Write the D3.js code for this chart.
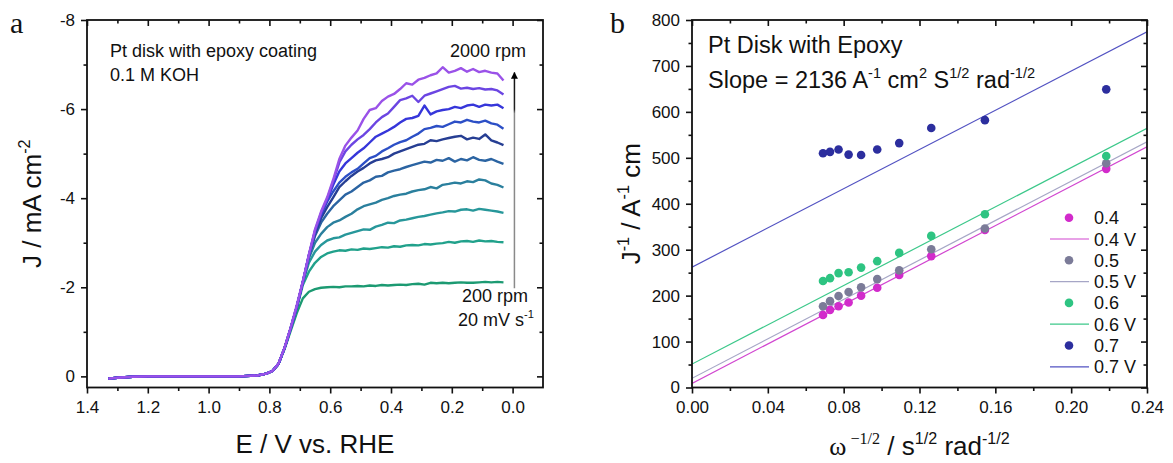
<!DOCTYPE html>
<html>
<head>
<meta charset="utf-8">
<script src="https://cdn.jsdelivr.net/npm/d3@7"></script>
<style>
  body { margin: 0; background: #fff; }
  svg text { font-family: "Liberation Sans", Arial, sans-serif; fill: #111; }
</style>
</head>
<body>
<script>
'use strict';

// ---- panel a : LSV curves, J (mA cm-2) vs E (V vs RHE) ----
let potential = [1.33, 1.30, 1.25, 1.20, 1.10, 1.00, 0.90, 0.84, 0.81, 0.79,
    0.77, 0.75, 0.73, 0.71, 0.69, 0.67, 0.65, 0.63, 0.61, 0.59, 0.57, 0.55,
    0.53, 0.51, 0.49, 0.47, 0.45, 0.43, 0.41, 0.39, 0.37, 0.35, 0.33, 0.31, 0.29,
    0.27, 0.25, 0.23, 0.21, 0.19, 0.17, 0.15, 0.13, 0.11, 0.09, 0.07, 0.05, 0.03];

// shared foot of the wave (1.33 .. 0.79 V), identical for every rotation rate
let onsetJ = [0.05, 0.03, 0.01, 0.0, 0.0, 0.0, 0.0, -0.02, -0.06, -0.12];

let rotationRates = [200, 400, 600, 800, 1000, 1200, 1400, 1600, 1800, 2000];

let curveColors = ["#1c9a72", "#21a18b", "#27979a", "#2a7f9d", "#2b64a2",
    "#263e93", "#2c4fc6", "#3636da", "#6b45e2", "#9a52e8"];

// 0.77 .. 0.03 V
let j200 = [-0.28, -0.62, -1.02, -1.42, -1.75, -1.90, -1.96, -1.99, -2.00, -2.01, -2.00, -2.02,
    -2.02, -2.03, -2.02, -2.04, -2.03, -2.05, -2.04, -2.05, -2.06, -2.05, -2.07, -2.08, -2.06,
    -2.10, -2.09, -2.10, -2.09, -2.10, -2.11, -2.10, -2.10, -2.11, -2.12, -2.11, -2.12, -2.11];
let j400 = [-0.28, -0.63, -1.06, -1.52, -2.05, -2.35, -2.55, -2.68, -2.76, -2.80, -2.83, -2.82,
    -2.85, -2.84, -2.87, -2.86, -2.88, -2.90, -2.89, -2.92, -2.91, -2.94, -2.95, -2.94, -2.97,
    -2.96, -2.98, -2.99, -3.02, -3.00, -3.03, -3.04, -3.02, -3.05, -3.03, -3.04, -3.02, -3.01];
let j600 = [-0.28, -0.64, -1.08, -1.56, -2.10, -2.55, -2.80, -2.95, -3.05, -3.10, -3.12, -3.18,
    -3.22, -3.26, -3.30, -3.29, -3.36, -3.40, -3.45, -3.44, -3.50, -3.52, -3.55, -3.58, -3.60,
    -3.63, -3.66, -3.68, -3.71, -3.70, -3.74, -3.75, -3.72, -3.76, -3.74, -3.72, -3.70, -3.67];
let j800 = [-0.28, -0.64, -1.08, -1.56, -2.12, -2.65, -3.00, -3.20, -3.35, -3.45, -3.50, -3.58,
    -3.65, -3.75, -3.82, -3.86, -3.90, -3.96, -4.00, -4.05, -4.08, -4.10, -4.15, -4.18, -4.20,
    -4.25, -4.22, -4.30, -4.32, -4.35, -4.33, -4.38, -4.36, -4.42, -4.40, -4.33, -4.30, -4.24];
let j1000 = [-0.28, -0.64, -1.08, -1.56, -2.12, -2.70, -3.15, -3.45, -3.65, -3.82, -3.95, -4.08,
    -4.15, -4.25, -4.35, -4.40, -4.48, -4.50, -4.58, -4.62, -4.65, -4.70, -4.74, -4.78, -4.82,
    -4.80, -4.86, -4.84, -4.90, -4.82, -4.88, -4.85, -4.92, -4.86, -4.84, -4.88, -4.82, -4.77];
let j1200 = [-0.28, -0.64, -1.08, -1.56, -2.12, -2.72, -3.20, -3.55, -3.80, -4.02, -4.25, -4.38,
    -4.50, -4.60, -4.68, -4.78, -4.85, -4.88, -4.92, -5.00, -5.05, -5.10, -5.15, -5.20, -5.22,
    -5.30, -5.28, -5.32, -5.35, -5.38, -5.40, -5.32, -5.36, -5.33, -5.43, -5.30, -5.25, -5.19];
let j1400 = [-0.28, -0.64, -1.08, -1.56, -2.12, -2.72, -3.25, -3.62, -3.92, -4.15, -4.35, -4.48,
    -4.58, -4.66, -4.78, -4.90, -4.95, -5.05, -5.12, -5.20, -5.26, -5.30, -5.38, -5.45, -5.55,
    -5.58, -5.62, -5.60, -5.66, -5.72, -5.70, -5.76, -5.72, -5.70, -5.74, -5.68, -5.65, -5.56];
let j1600 = [-0.28, -0.64, -1.08, -1.56, -2.12, -2.72, -3.26, -3.65, -3.96, -4.30, -4.60, -4.78,
    -4.90, -5.02, -5.12, -5.25, -5.38, -5.45, -5.52, -5.60, -5.70, -5.78, -5.80, -5.85, -6.08,
    -5.88, -5.95, -5.98, -6.00, -6.05, -6.02, -6.08, -6.10, -6.05, -6.10, -6.08, -6.10, -6.02];
let j1800 = [-0.28, -0.64, -1.08, -1.56, -2.12, -2.72, -3.27, -3.67, -3.98, -4.38, -4.80, -5.05,
    -5.20, -5.32, -5.42, -5.55, -5.70, -5.82, -5.90, -6.05, -6.20, -6.24, -6.30, -6.16, -6.30,
    -6.35, -6.40, -6.45, -6.50, -6.52, -6.46, -6.48, -6.45, -6.47, -6.44, -6.45, -6.42, -6.33];
let j2000 = [-0.29, -0.65, -1.10, -1.60, -2.14, -2.74, -3.30, -3.70, -4.02, -4.42, -4.88, -5.18,
    -5.36, -5.52, -5.78, -5.98, -6.02, -6.18, -6.28, -6.34, -6.45, -6.58, -6.55, -6.66, -6.70,
    -6.76, -6.80, -6.94, -6.82, -6.86, -6.92, -6.84, -6.90, -6.83, -6.86, -6.82, -6.80, -6.64];
let currents = [j200, j400, j600, j800, j1000, j1200, j1400, j1600, j1800, j2000];

let potentialTicks = [1.4, 1.2, 1.0, 0.8, 0.6, 0.4, 0.2, 0.0];
let potentialMinor = [1.3, 1.1, 0.9, 0.7, 0.5, 0.3, 0.1];
let currentTicks = [-8, -6, -4, -2, 0];
let currentMinor = [-7, -5, -3, -1];

// ---- panel b : Koutecky-Levich ----
let invSqrtOmega = [0.0691, 0.0728, 0.0773, 0.0826, 0.0892, 0.0977, 0.1093, 0.1262, 0.1545, 0.2185];
let klPotentials = ["0.4", "0.5", "0.6", "0.7"];
let invJ04 = [158, 169, 177, 185, 200, 217, 245, 286, 343, 476];
let invJ05 = [177, 188, 199, 208, 218, 236, 255, 301, 346, 488];
let invJ06 = [232, 238, 249, 251, 261, 275, 293, 330, 377, 504];
let invJ07 = [510, 513, 518, 507, 506, 518, 532, 565, 582, 649];
let invJ = [invJ04, invJ05, invJ06, invJ07];
let fitSlope = [2146, 2146, 2138, 2134];
let fitIntercept = [9, 20, 51, 262];
let pointColors = ["#d22bcb", "#7b7b98", "#2ec482", "#2c2e9e"];
let fitColors = ["#d146d0", "#a6a6c6", "#3cc88a", "#5252c2"];

let omegaTicks = [0, 0.04, 0.08, 0.12, 0.16, 0.20, 0.24];
let omegaMinor = [0.02, 0.06, 0.10, 0.14, 0.18, 0.22];
let invJTicks = [0, 100, 200, 300, 400, 500, 600, 700, 800];
let invJMinor = [50, 150, 250, 350, 450, 550, 650, 750];

const width = 1173, height = 463;
const svg = d3.select("body").append("svg")
    .attr("width", width).attr("height", height);

const defs = svg.append("defs");
defs.append("marker").attr("id", "arrowHead")
    .attr("viewBox", "0 0 10 10").attr("refX", 9).attr("refY", 5)
    .attr("markerWidth", 7).attr("markerHeight", 9).attr("orient", "auto")
    .attr("markerUnits", "userSpaceOnUse")
    .append("path").attr("d", "M0,0 L10,5 L0,10 Z").attr("fill", "#000");

// text with superscripts: parts = [[string, isSup, family]]
function richText(sel, parts, size) {
    let supSize = size * 0.62, lift = size * 0.42;
    let up = false;
    parts.forEach(p => {
        let t = sel.append("tspan").text(p[0]);
        if (p[2]) t.style("font-family", p[2]);
        if (p[1]) {
            t.attr("font-size", supSize);
            if (!up) t.attr("dy", -lift);
            up = true;
        } else {
            t.attr("font-size", size);
            if (up) t.attr("dy", lift);
            up = false;
        }
    });
    return sel;
}

function drawFrame(x, y, box, xMaj, xMin, yMaj, yMin, xFmt, yFmt) {
    let g = svg.append("g");
    let major = 6, minor = 3.5;
    let axes = [
        [d3.axisBottom(x).tickValues(xMaj).tickSize(major).tickPadding(7).tickFormat(xFmt), 0, box.bottom],
        [d3.axisBottom(x).tickValues(xMin).tickSize(minor).tickFormat(""), 0, box.bottom],
        [d3.axisTop(x).tickValues(xMaj).tickSize(-major).tickFormat(""), 0, box.top],
        [d3.axisTop(x).tickValues(xMin).tickSize(-minor).tickFormat(""), 0, box.top],
        [d3.axisLeft(y).tickValues(yMaj).tickSize(major).tickPadding(6).tickFormat(yFmt), box.left, 0],
        [d3.axisLeft(y).tickValues(yMin).tickSize(minor).tickFormat(""), box.left, 0],
        [d3.axisRight(y).tickValues(yMaj).tickSize(-major).tickFormat(""), box.right, 0],
        [d3.axisRight(y).tickValues(yMin).tickSize(-minor).tickFormat(""), box.right, 0]
    ];
    axes.forEach(a => {
        let ag = g.append("g").attr("transform", `translate(${a[1]},${a[2]})`).call(a[0]);
        ag.select(".domain").remove();
        ag.selectAll(".tick line").attr("stroke", "#111").attr("stroke-width", 1.6);
        ag.selectAll(".tick text").attr("font-size", 17)
            .style("font-family", "'Liberation Sans', Arial, sans-serif").attr("fill", "#111");
    });
    g.append("rect")
        .attr("x", box.left).attr("y", box.top)
        .attr("width", box.right - box.left).attr("height", box.bottom - box.top)
        .attr("fill", "none").attr("stroke", "#111").attr("stroke-width", 1.8);
}

// ================= panel a =================
const boxA = {left: 87, right: 543, top: 20, bottom: 387.5};
const xA = d3.scaleLinear().domain([1.4, -0.1]).range([boxA.left, boxA.right]);
const yA = d3.scaleLinear().domain([-8, 0.25]).range([boxA.top, boxA.bottom]);

defs.append("clipPath").attr("id", "clipA").append("rect")
    .attr("x", boxA.left).attr("y", boxA.top)
    .attr("width", boxA.right - boxA.left).attr("height", boxA.bottom - boxA.top);

const lineA = d3.line().x(d => xA(d[0])).y(d => yA(d[1]));
const curvesG = svg.append("g").attr("clip-path", "url(#clipA)");
rotationRates.forEach((rpm, i) => {
    let pts = potential.map((e, k) => [e, k < onsetJ.length ? onsetJ[k] : currents[i][k - onsetJ.length]]);
    curvesG.append("path").datum(pts)
        .attr("d", lineA)
        .attr("fill", "none")
        .attr("stroke", curveColors[i])
        .attr("stroke-width", 2.4)
        .attr("stroke-linejoin", "round");
});

drawFrame(xA, yA, boxA, potentialTicks, potentialMinor, currentTicks, currentMinor,
    d3.format(".1f"), d => String(d));

// arrow 200 -> 2000 rpm, gray shaft turning black near the head
const arrowTop = yA(-6.82), arrowBottom = yA(-1.98);
const grad = defs.append("linearGradient").attr("id", "arrowShade")
    .attr("gradientUnits", "userSpaceOnUse")
    .attr("x1", 0).attr("x2", 0).attr("y1", arrowTop).attr("y2", arrowBottom);
grad.append("stop").attr("offset", "0%").attr("stop-color", "#111");
grad.append("stop").attr("offset", "17%").attr("stop-color", "#222");
grad.append("stop").attr("offset", "19%").attr("stop-color", "#888");
grad.append("stop").attr("offset", "100%").attr("stop-color", "#8a8a8a");
svg.append("line")
    .attr("x1", xA(-0.006)).attr("x2", xA(-0.006) + 0.01)
    .attr("y1", arrowBottom).attr("y2", arrowTop)
    .attr("stroke", "url(#arrowShade)").attr("stroke-width", 1.5)
    .attr("marker-end", "url(#arrowHead)");

svg.append("text").attr("x", 110).attr("y", 57).attr("font-size", 18).text("Pt disk with epoxy coating");
svg.append("text").attr("x", 110).attr("y", 80.5).attr("font-size", 18).text("0.1 M KOH");
svg.append("text").attr("x", 526).attr("y", 57).attr("font-size", 18)
    .attr("text-anchor", "end").text("2000 rpm");
svg.append("text").attr("x", 528).attr("y", 302).attr("font-size", 18)
    .attr("text-anchor", "end").text("200 rpm");
richText(svg.append("text").attr("x", 458).attr("y", 326),
    [["20 mV s"], ["-1", true]], 18);

svg.append("text").attr("x", (boxA.left + boxA.right) / 2).attr("y", 453)
    .attr("text-anchor", "middle").attr("font-size", 26).text("E / V vs. RHE");
richText(svg.append("text").attr("transform", `translate(41,${(boxA.top + boxA.bottom) / 2}) rotate(-90)`)
    .attr("text-anchor", "middle"),
    [["J / mA cm"], ["-2", true]], 26);

svg.append("text").attr("x", 10).attr("y", 33).attr("font-size", 30)
    .style("font-family", "'Liberation Serif', 'Times New Roman', serif").text("a");

// ================= panel b =================
const boxB = {left: 692, right: 1147, top: 20, bottom: 387.5};
const xB = d3.scaleLinear().domain([0, 0.24]).range([boxB.left, boxB.right]);
const yB = d3.scaleLinear().domain([0, 800]).range([boxB.bottom, boxB.top]);

defs.append("clipPath").attr("id", "clipB").append("rect")
    .attr("x", boxB.left).attr("y", boxB.top)
    .attr("width", boxB.right - boxB.left).attr("height", boxB.bottom - boxB.top);

const fitsG = svg.append("g").attr("clip-path", "url(#clipB)");
klPotentials.forEach((v, i) => {
    let x0 = xB.domain()[0], x1 = xB.domain()[1];
    fitsG.append("line")
        .attr("x1", xB(x0)).attr("y1", yB(fitIntercept[i] + fitSlope[i] * x0))
        .attr("x2", xB(x1)).attr("y2", yB(fitIntercept[i] + fitSlope[i] * x1))
        .attr("stroke", fitColors[i]).attr("stroke-width", 1.2);
});
klPotentials.forEach((v, i) => {
    fitsG.append("g").selectAll("circle")
        .data(invSqrtOmega.map((x, k) => [x, invJ[i][k]]))
        .enter().append("circle")
        .attr("cx", d => xB(d[0])).attr("cy", d => yB(d[1]))
        .attr("r", 4.3).attr("fill", pointColors[i]);
});

drawFrame(xB, yB, boxB, omegaTicks, omegaMinor, invJTicks, invJMinor,
    d3.format(".2f"), d => String(d));

svg.append("text").attr("x", 708).attr("y", 53).attr("font-size", 23.5).text("Pt Disk with Epoxy");
richText(svg.append("text").attr("x", 708).attr("y", 87.5),
    [["Slope = 2136 A"], ["-1", true], [" cm"], ["2", true], [" S"], ["1/2", true], [" rad"], ["-1/2", true]], 23.5);

// legend
const legendG = svg.append("g");
klPotentials.forEach((v, i) => {
    let yMark = 217.7 + i * 42.6, yLine = yMark + 21.3;
    legendG.append("circle").attr("cx", 1069).attr("cy", yMark).attr("r", 4.3).attr("fill", pointColors[i]);
    legendG.append("text").attr("x", 1094).attr("y", yMark + 6.5).attr("font-size", 18).text(v);
    legendG.append("line").attr("x1", 1050).attr("x2", 1089).attr("y1", yLine).attr("y2", yLine)
        .attr("stroke", fitColors[i]).attr("stroke-width", 1.2);
    legendG.append("text").attr("x", 1094).attr("y", yLine + 6.5).attr("font-size", 18).text(v + " V");
});

const serif = "'Liberation Serif', 'Times New Roman', serif";
richText(svg.append("text").attr("x", (boxB.left + boxB.right) / 2).attr("y", 455)
    .attr("text-anchor", "middle"),
    [["\u03c9", false, serif], [" \u22121/2", true, serif], [" / s"], ["1/2", true], [" rad"], ["-1/2", true]], 26);
richText(svg.append("text").attr("transform", `translate(640,${(boxB.top + boxB.bottom) / 2}) rotate(-90)`)
    .attr("text-anchor", "middle"),
    [["J"], ["-1", true], [" / A"], ["-1", true], [" cm"]], 26);

svg.append("text").attr("x", 610).attr("y", 33).attr("font-size", 30)
    .style("font-family", serif).text("b");
</script>
</body>
</html>
